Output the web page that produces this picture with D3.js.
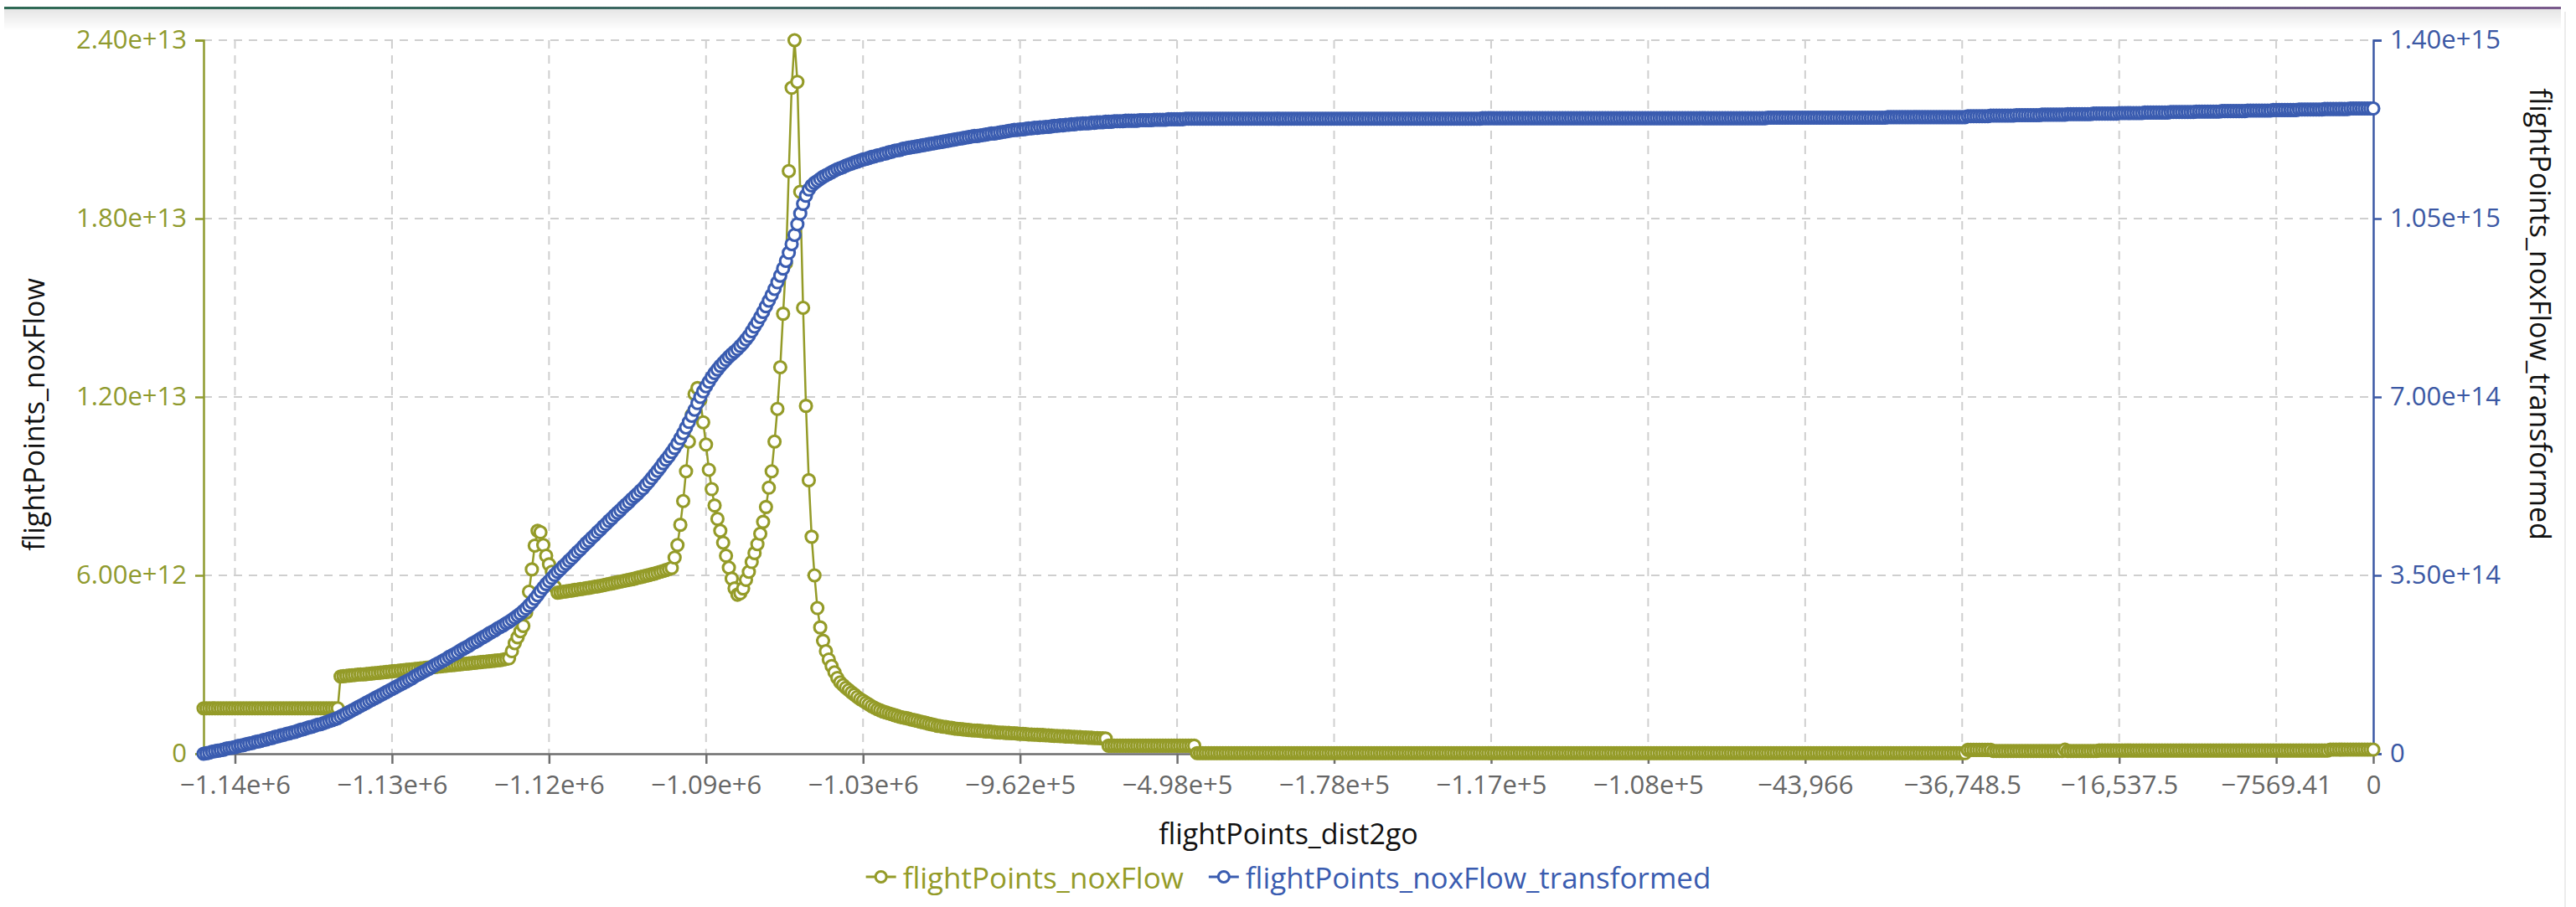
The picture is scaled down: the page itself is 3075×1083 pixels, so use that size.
<!DOCTYPE html>
<html>
<head>
<meta charset="utf-8">
<script src="https://cdn.jsdelivr.net/npm/d3@7"></script>
<style>
  body { margin: 0; background: #fff; }
  svg text { font-family: "Open Sans", sans-serif; }
</style>
</head>
<body>
<div id="main"></div>
<script>
// x axis: points are drawn by index, ticks carry the dist2go value at that index
const xTickLabels = ['\u22121.14e+6', '\u22121.13e+6', '\u22121.12e+6', '\u22121.09e+6', '\u22121.03e+6',
  '\u22129.62e+5', '\u22124.98e+5', '\u22121.78e+5', '\u22121.17e+5', '\u22121.08e+5',
  '\u221243,966', '\u221236,748.5', '\u221216,537.5', '\u22127569.41', '0'];
const xTickIndex = [11, 66, 121, 176, 231, 286, 341, 396, 451, 506, 561, 616, 671, 726, 760];

const leftTicks = [0, 6e12, 1.2e13, 1.8e13, 2.4e13];
const rightTicks = [0, 3.5e14, 7e14, 1.05e15, 1.4e15];

// flightPoints_noxFlow, in units of 1e10
const noxFlow = [
  153,153,153,153,153,153,153,153,153,153,
  153,153,153,153,153,153,153,153,153,153,
  153,153,153,153,153,153,153,153,153,153,
  153,153,153,153,153,153,153,153,153,153,
  153,153,153,153,153,153,153,153,
  260,261,262,263,264,265,266,267,267,268,
  269,270,271,272,273,274,275,276,277,278,
  279,280,281,282,283,284,285,286,287,288,
  289,290,291,292,293,294,295,296,297,298,
  299,300,301,302,303,304,305,306,307,308,
  309,310,311,312,313,314,315,317,319,321,
  345,372,392,412,430,475,545,620,700,750,
  745,702,666,637,612,562,
  542,543,545,546,548,549,551,552,554,555,
  557,558,560,562,563,565,567,569,571,573,
  575,577,579,581,583,585,587,589,592,594,
  596,599,601,604,606,609,612,615,618,621,
  625,660,702,770,850,950,1050,1140,1210,1230,
  1190,1115,1040,955,890,835,790,750,710,666,
  626,589,556,535,540,556,585,612,645,675,
  705,740,780,830,895,950,1050,1160,1300,1480,
  1650,1960,2240,2400,2260,1890,1500,1170,920,730,
  600,490,425,380,345,317,295,274,255,
  240,231,222,214,206,199,191,184,178,172,
  166,160,155,150,146,142,139,136,133,130,
  127,124,122,120,118,115,113,111,108,106,
  104,101,99,97,94,93,91,90,88,87,
  85,84,83,82,81,80,79,78,78,77,
  76,75,75,74,73,72,71,71,70,70,
  69,69,68,67,67,66,65,65,64,64,
  63,63,62,62,61,60,60,59,59,58,
  58,57,57,56,56,55,55,54,54,53,
  53,52,52,51,
  27,27,27,27,27,27,27,27,27,27,
  27,27,27,27,27,27,27,27,27,27,
  27,27,27,27,27,27,27,27,27,27,
  27,
  2,2,2,2,2,2,2,2,2,2, 2,2,2,2,2,2,2,2,2,2, 2,2,2,2,2,2,2,2,2,2,
  2,2,2,2,2,2,2,2,2,2, 2,2,2,2,2,2,2,2,2,2, 2,2,2,2,2,2,2,2,2,2,
  2,2,2,2,2,2,2,2,2,2, 2,2,2,2,2,2,2,2,2,2, 2,2,2,2,2,2,2,2,2,2,
  2,2,2,2,2,2,2,2,2,2, 2,2,2,2,2,2,2,2,2,2, 2,2,2,2,2,2,2,2,2,2,
  2,2,2,2,2,2,2,2,2,2, 2,2,2,2,2,2,2,2,2,2, 2,2,2,2,2,2,2,2,2,2,
  2,2,2,2,2,2,2,2,2,2, 2,2,2,2,2,2,2,2,2,2, 2,2,2,2,2,2,2,2,2,2,
  2,2,2,2,2,2,2,2,2,2, 2,2,2,2,2,2,2,2,2,2, 2,2,2,2,2,2,2,2,2,2,
  2,2,2,2,2,2,2,2,2,2, 2,2,2,2,2,2,2,2,2,2, 2,2,2,2,2,2,2,2,2,2,
  2,2,2,2,2,2,2,2,2,2, 2,2,2,2,2,2,2,2,2,2, 2,2,2,2,2,2,2,2,2,2,
  13,13,13,13,13,13,13,13,13,
  9,9,9,9,9,9,9,9,9,9, 9,9,9,9,9,9,9,9,9,9, 9,9,9,9,9,
  14,
  9,9,9,9,9,9,9,9,9,9,9,
  11,11,11,11,11,11,11,11,11,11, 11,11,11,11,11,11,11,11,11,11,
  11,11,11,11,11,11,11,11,11,11, 11,11,11,11,11,11,11,11,11,11,
  11,11,11,11,11,11,11,11,11,11, 11,11,11,11,11,11,11,11,11,11,
  11,11,11,11,11,11,11,11,11,11, 11,11,11,11,11,11,11,11,11,11,
  11,
  14,14,14,14,14,14,14,14,14,14,14,14,14,14,14,14
];

// flightPoints_noxFlow_transformed, in units of 1e12
const noxFlowTransformed = [
  0,1,2,4,5,6,7,8,10,11,
  12,13,15,16,17,19,20,21,23,24,
  25,27,28,30,31,33,34,36,37,39,
  40,42,43,45,47,48,50,52,53,55,
  57,58,60,62,64,66,68,70,
  73,76,79,82,85,88,91,94,97,100,
  103,106,109,112,115,118,121,124,127,130,
  133,136,139,142,145,148,152,155,158,161,
  164,167,170,174,177,180,183,186,190,193,
  196,199,203,206,209,212,216,219,222,226,
  229,232,236,239,242,246,249,252,256,259,
  263,267,271,275,280,285,291,297,304,311,
  319,326,333,339,345,351,
  357,362,368,373,379,384,390,396,401,407,
  413,418,424,429,435,440,446,451,457,462,
  468,473,478,484,489,494,500,505,510,516,
  521,528,534,541,548,555,562,570,577,584,
  592,600,609,619,629,640,651,663,675,688,
  700,711,721,730,739,747,754,761,767,773,
  779,784,789,794,800,806,813,820,829,838,
  847,857,867,878,889,900,912,925,938,952,
  967,983,1000,1018,1039,1060,1079,1095,1107,1115,
  1120,1124,1128,1132,1135,1138,1141,1144,1147,1149,
  1151,1154,1156,1158,1160,1162,1164,1166,1167,1169,
  1171,1172,1174,1175,1177,1178,1180,1181,1183,1184,
  1185,1187,1188,1189,1190,1191,1192,1193,1194,1195,
  1196,1197,1198,1199,1200,1201,1202,1203,1204,1205,
  1206,1207,1208,1209,1210,1211,1212,1212,1213,1214,
  1215,1216,1217,1217,1218,1219,1220,1221,1222,1223,
  1224,1224,1225,1225,1226,1227,1227,1228,1228,1229,
  1229,1230,1230,1231,1232,1232,1233,1233,1234,1234,
  1235,1235,1236,1236,1237,1237,1237,1238,1238,1239,
  1239,1239,1240,1240,1240,1241,1241,1241,1241,1242,
  1242,1242,1242,1242,1243,1243,1243,1243,1243,1244,
  1244,1244,1244,1244,1245,1245,1245,1245,1245,1245,
  1246,1246,1246,1246,
  1246,1246,1246,1246,1246,1246,1246,1246,1246,1246, 1246,1246,1246,1246,1246,1246,1246,1246,1246,1246,
  1246,1246,1246,1246,1246,1246,1246,1246,1246,1246, 1246,1246,1246,1246,1246,1246,1246,1246,1246,1246,
  1246,1246,1246,1246,1246,1246,1246,1246,1246,1246, 1246,1246,1246,1246,1246,1246,1246,1246,1246,1246,
  1246,1246,1246,1246,1246,1246,1246,1246,1246,1246, 1246,1246,1246,1246,1246,1246,1246,1246,1246,1246,
  1246,1246,1246,1246,1246,1246,1246,1246,1246,1246, 1246,1246,1246,1246,1246,1246,1246,1246,1246,1246,
  1247,1247,1247,1247,1247,1247,1247,1247,1247,1247, 1247,1247,1247,1247,1247,1247,1247,1247,1247,1247,
  1247,1247,1247,1247,1247,1247,1247,1247,1247,1247, 1247,1247,1247,1247,1247,1247,1247,1247,1247,1247,
  1247,1247,1247,1247,1247,1247,1247,1247,1247,1247, 1247,1247,1247,1247,1247,1247,1247,1247,1247,1247,
  1247,1247,1247,1247,1247,1247,1247,1247,1247,1247, 1247,1247,1247,1247,1247,1247,1247,1247,1247,1247,
  1247,1247,1247,1247,1247,1247,1247,1247,1247,1247, 1247,1247,1247,1247,1247,1247,1247,1247,1247,1247,
  1248,1248,1248,1248,1248,1248,1248,1248,1248,1248, 1248,1248,1248,1248,1248,1248,1248,1248,1248,1248,
  1248,1248,1248,1248,1248,1248,1248,1248,1248,1248, 1248,1248,1248,1248,1248,1248,1248,1248,1248,1248,
  1248,1248,
  1249,1249,1249,1249,1249,1249,1249,1249,1249,1249, 1249,1249,1249,1249,1249,1249,1249,1249,1249,1249,
  1249,1249,1249,1249,1249,1249,1249,1249,
  1251,1251,1251,1251,1251,1251,1251,1251,
  1252,1252,1252,1252,1252,1252,1252,1252,1252,
  1253,1253,1253,1253,1253,1253,1253,1253,1253,
  1254,1254,1254,1254,1254,1254,1254,1254,1254,
  1255,1255,1255,1255,1255,1255,1255,1255,1255,
  1256,1256,1256,1256,1256,1256,1256,1256,1256,
  1257,1257,1257,1257,1257,1257,1257,1257,1257,
  1258,1258,1258,1258,1258,1258,1258,1258,1258,
  1259,1259,1259,1259,1259,1259,1259,1259,1259,
  1260,1260,1260,1260,1260,1260,1260,1260,1260,
  1261,1261,1261,1261,1261,1261,1261,1261,1261,
  1262,1262,1262,1262,1262,1262,1262,1262,1262,
  1263,1263,1263,1263,1263,1263,1263,1263,1263,
  1264,1264,1264,1264,1264,1264,1264,1264,1264,
  1265,1265,1265,1265,1265,1265,1265,1265,1265,
  1266,1266,1266,1266,1266,1266,1266,1266,1266
];

const series = [
  {name: 'flightPoints_noxFlow', values: noxFlow.map(v => v * 1e10), color: '#949b28', axis: 'left'},
  {name: 'flightPoints_noxFlow_transformed', values: noxFlowTransformed.map(v => v * 1e12), color: '#3a5cb0', axis: 'right'}
];

const width = 3075;
const height = 1083;
const plot = {left: 243, right: 2833, top: 48, bottom: 900};
const olive = '#8f9a2e';
const navy = '#3b58a4';

const svg = d3.select('#main').append('svg')
  .attr('width', width).attr('height', height);

// header strip of the host page
const defs = svg.append('defs');
const hdr = defs.append('linearGradient').attr('id', 'hdr');
hdr.append('stop').attr('offset', '0%').attr('stop-color', '#2f6a55');
hdr.append('stop').attr('offset', '60%').attr('stop-color', '#4d6472');
hdr.append('stop').attr('offset', '100%').attr('stop-color', '#7a5a8c');
const shade = defs.append('linearGradient').attr('id', 'shade')
  .attr('x1', 0).attr('x2', 0).attr('y1', 0).attr('y2', 1);
shade.append('stop').attr('offset', '0%').attr('stop-color', '#000').attr('stop-opacity', 0.1);
shade.append('stop').attr('offset', '100%').attr('stop-color', '#000').attr('stop-opacity', 0);
svg.append('rect').attr('x', 5).attr('y', 11).attr('width', 3052).attr('height', 26).attr('fill', 'url(#shade)');
svg.append('rect').attr('x', 5).attr('y', 8).attr('width', 3052).attr('height', 3).attr('fill', 'url(#hdr)');
svg.append('line').attr('x1', 3062).attr('x2', 3062).attr('y1', 14).attr('y2', height)
  .attr('stroke', '#ececec').attr('stroke-width', 2);

const x = d3.scaleLinear().domain([0, noxFlow.length - 1]).range([plot.left, plot.right]);
const yLeft = d3.scaleLinear().domain([0, 2.4e13]).range([plot.bottom, plot.top]);
const yRight = d3.scaleLinear().domain([0, 1.4e15]).range([plot.bottom, plot.top]);
const fmt = d => d === 0 ? '0' : d3.format('.2e')(d);

// grid
const grid = svg.append('g').attr('stroke', '#cfcfcf').attr('stroke-width', 2).attr('stroke-dasharray', '10,8');
grid.selectAll('.h').data(leftTicks.slice(1)).join('line')
  .attr('x1', plot.left).attr('x2', plot.right)
  .attr('y1', d => yLeft(d)).attr('y2', d => yLeft(d));
grid.selectAll('.v').data(xTickIndex.slice(0, -1)).join('line')
  .attr('x1', d => x(d)).attr('x2', d => x(d))
  .attr('y1', plot.top).attr('y2', plot.bottom);

// axes
const xAxis = svg.append('g').attr('transform', `translate(0,${plot.bottom})`)
  .call(d3.axisBottom(x).tickValues(xTickIndex).tickFormat((d, i) => xTickLabels[i])
    .tickSize(12).tickSizeOuter(0).tickPadding(14));
xAxis.select('.domain').attr('stroke', '#6e6e6e').attr('stroke-width', 2.5);
xAxis.selectAll('.tick line').attr('stroke', '#6e6e6e').attr('stroke-width', 2.5);
xAxis.selectAll('text').attr('fill', '#666').attr('font-size', 31);

const lAxis = svg.append('g').attr('transform', `translate(${plot.left},0)`)
  .call(d3.axisLeft(yLeft).tickValues(leftTicks).tickFormat(fmt).tickSize(10).tickPadding(10));
lAxis.selectAll('path, line').attr('stroke', olive).attr('stroke-width', 2.5);
lAxis.selectAll('text').attr('fill', olive).attr('font-size', 31);

const rAxis = svg.append('g').attr('transform', `translate(${plot.right},0)`)
  .call(d3.axisRight(yRight).tickValues(rightTicks).tickFormat(fmt).tickSize(10).tickPadding(10));
rAxis.selectAll('path, line').attr('stroke', navy).attr('stroke-width', 2.5);
rAxis.selectAll('text').attr('fill', navy).attr('font-size', 31);
svg.selectAll('.domain').attr('fill', 'none');

// axis titles
svg.append('text').attr('x', (plot.left + plot.right) / 2).attr('y', 995)
  .attr('text-anchor', 'middle').attr('dominant-baseline', 'central')
  .attr('font-size', 34).attr('fill', '#111').text('flightPoints_dist2go');
svg.append('text').attr('transform', 'translate(40,495) rotate(-90)')
  .attr('text-anchor', 'middle').attr('dominant-baseline', 'central')
  .attr('font-size', 34).attr('fill', '#111').text('flightPoints_noxFlow');
svg.append('text').attr('transform', 'translate(3033,375) rotate(90)')
  .attr('text-anchor', 'middle').attr('dominant-baseline', 'central')
  .attr('font-size', 34).attr('fill', '#111').text('flightPoints_noxFlow_transformed');

// series: line under hollow markers
series.forEach(s => {
  const y = s.axis === 'left' ? yLeft : yRight;
  const g = svg.append('g');
  g.append('path').datum(s.values)
    .attr('d', d3.line().x((d, i) => x(i)).y(d => y(d)))
    .attr('fill', 'none').attr('stroke', s.color).attr('stroke-width', 2.5);
  g.selectAll('circle').data(s.values).join('circle')
    .attr('cx', (d, i) => x(i)).attr('cy', d => y(d)).attr('r', 7)
    .attr('fill', '#fff').attr('stroke', s.color).attr('stroke-width', 3.1);
});

// legend
const legend = svg.append('g');
let lx = 0;
series.forEach(s => {
  const item = legend.append('g').attr('transform', `translate(${lx},0)`);
  item.append('line').attr('x1', 0).attr('x2', 36).attr('stroke', s.color).attr('stroke-width', 3);
  item.append('circle').attr('cx', 18).attr('r', 6.5).attr('fill', '#fff')
    .attr('stroke', s.color).attr('stroke-width', 3);
  const t = item.append('text').attr('x', 44).attr('dominant-baseline', 'central')
    .attr('font-size', 35).attr('fill', s.color).text(s.name);
  lx += 44 + t.node().getComputedTextLength() + 30;
});
const lw = lx - 30;
legend.attr('transform', `translate(${(plot.left + plot.right) / 2 - lw / 2},1047)`);
</script>
</body>
</html>
